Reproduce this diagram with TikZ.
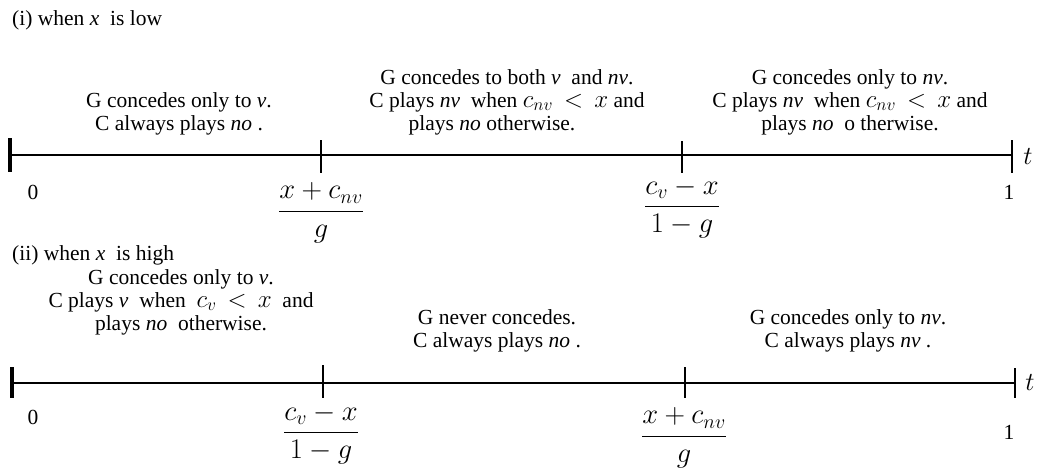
\RequirePackage{fix-cm}
\documentclass[tikz,border=0pt]{standalone}
\usepackage{amsmath}
\usepackage{fontspec}
\setmainfont{Liberation Serif}
\usetikzlibrary{positioning}

% inline math set a little larger, as in the original
\newcommand{\inmath}[1]{{\fontsize{25}{23}\selectfont$#1$}}

\begin{document}
\begin{tikzpicture}[
    x=1pt, y=-1pt,
    every node/.style={inner sep=0pt, font=\fontsize{21.5}{23}\selectfont},
    regime/.style={align=center},
    caselabel/.style={anchor=west},
    frac/.style={font=\fontsize{28.5}{30}\selectfont},
    axisname/.style={font=\fontsize{26}{26}\selectfont},
    axis/.style={line width=2.6pt},
    endtick/.style={line width=3.2pt},
    midtick/.style={line width=2.4pt},
    lasttick/.style={line width=1.8pt},
]
\useasboundingbox (0,0) rectangle (1040,471);

% Case (i): x low
\node[caselabel] (lowcase) at (12,20) {(i) when \textit{x}\ \ is low};

\node[regime] (lowA) at (179,114)
    {G concedes only to \textit{v}.\\C always plays \textit{no} .};
\node[regime] (lowB) at (507,102)
    {G concedes to both \textit{v}\ \ and \textit{nv}.\\
     C plays \textit{nv}\ \ when \inmath{c_{nv} \,<\, x} and\\
     plays \textit{no} otherwise.\hspace*{30pt}};
\node[regime] (lowC) at (850,102)
    {G concedes only to \textit{nv}.\\
     C plays \textit{nv}\ \ when \inmath{c_{nv} \,<\, x} and\\
     plays \textit{no}\ \ o therwise.};

% Axis (i)
\coordinate (lo0) at (10,155);
\coordinate (lo1) at (321,155);
\coordinate (lo2) at (682,155);
\coordinate (lo3) at (1012,155);
\draw[axis] (lo0) -- (lo3);
\draw[endtick] (lo0) ++(0,-17) -- ++(0,34);
\draw[midtick] (lo1) ++(0,-15) -- ++(0,33);
\draw[midtick] (lo2) ++(0,-14) -- ++(0,32);
\draw[lasttick] (lo3) ++(0,-15) -- ++(0,33);

% Ticks (i)
\node (lozero) at (33,192) {0};
\node[frac] (lofirst) at (321,213) {$\dfrac{x + c_{nv}}{g}$};
\node[frac] (losecond) at (682,208) {$\dfrac{c_v - x}{1 - g}$};
\node (loone) at (1009,192) {1};
\node[axisname] (lot) at (1028,157) {$t$};

% Case (ii): x high
\node[caselabel] (highcase) at (12,255) {(ii) when \textit{x}\ \ is high};

\node[regime] (highA) at (181,302)
    {G concedes only to \textit{v}.\\
     C plays \textit{v}\ \ when\ \ \inmath{c_v \,<\, x}\ \ and\\
     plays \textit{no}\ \ otherwise.};
\node[regime] (highB) at (497,331)
    {G never concedes.\\C always plays \textit{no} .};
\node[regime] (highC) at (848,331)
    {G concedes only to \textit{nv}.\\C always plays \textit{nv} .};

% Axis (ii)
\coordinate (hi0) at (12,383);
\coordinate (hi1) at (323,383);
\coordinate (hi2) at (685,383);
\coordinate (hi3) at (1015,383);
\draw[axis] (hi0) -- (hi3);
\draw[endtick] (hi0) ++(0,-16) -- ++(0,31);
\draw[midtick] (hi1) ++(0,-18) -- ++(0,33);
\draw[midtick] (hi2) ++(0,-16) -- ++(0,31);
\draw[lasttick] (hi3) ++(0,-15) -- ++(0,30);

% Ticks (ii)
\node (hizero) at (33,417) {0};
\node[frac] (hifirst) at (321,434) {$\dfrac{c_v - x}{1 - g}$};
\node[frac] (hisecond) at (684,438) {$\dfrac{x + c_{nv}}{g}$};
\node (hione) at (1009,432) {1};
\node[axisname] (hit) at (1030,382) {$t$};

\end{tikzpicture}
\end{document}
